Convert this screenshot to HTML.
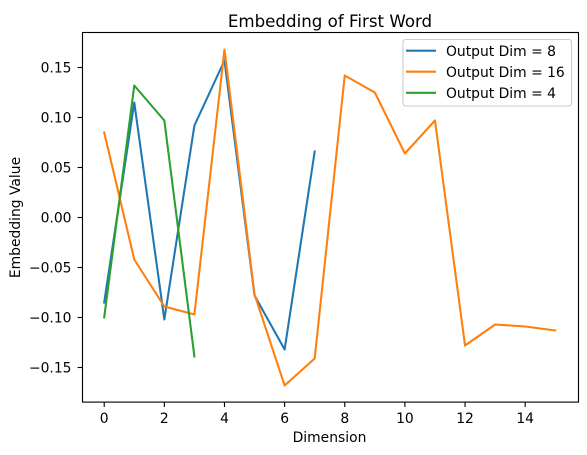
<!DOCTYPE html>
<html>
<head>
<meta charset="utf-8">
<title>Embedding of First Word</title>
<style>
html,body{margin:0;padding:0;background:#fff;width:587px;height:455px;overflow:hidden}
svg{display:block}
text{font-family:"DejaVu Sans",sans-serif;fill:#000}
</style>
</head>
<body>
<svg id="chart" width="587" height="455" viewBox="0 0 587 455" xmlns="http://www.w3.org/2000/svg">
  <rect x="0" y="0" width="587" height="455" fill="#fff"/>
  <g id="series"></g>
  <g id="xticks"></g>
  <g id="yticks"></g>
  <rect x="82.5" y="32.5" width="496" height="369.6" fill="none" stroke="#000" stroke-width="1.11"/>
  <text x="330" y="27" font-size="16.67" text-anchor="middle">Embedding of First Word</text>
  <text x="329.5" y="442" font-size="13.89" text-anchor="middle">Dimension</text>
  <text transform="translate(20,217.5) rotate(-90)" font-size="13.89" text-anchor="middle">Embedding Value</text>
  <g>
    <rect x="403" y="39.5" width="168.5" height="66.5" rx="2.8" fill="#fff" fill-opacity="0.8" stroke="#ccc" stroke-width="1.11"/>
    <g>
      <line x1="406" x2="436" y1="50.7" y2="50.7" stroke="#1f77b4" stroke-width="2.08"/>
      <text x="446" y="55.8" font-size="13.89">Output Dim = 8</text>
    </g>
    <g>
      <line x1="406" x2="436" y1="71.7" y2="71.7" stroke="#ff7f0e" stroke-width="2.08"/>
      <text x="446" y="76.8" font-size="13.89">Output Dim = 16</text>
    </g>
    <g>
      <line x1="406" x2="436" y1="92.8" y2="92.8" stroke="#2ca02c" stroke-width="2.08"/>
      <text x="446" y="97.9" font-size="13.89">Output Dim = 4</text>
    </g>
  </g>
</svg>
<script>
var xTicks = [0, 2, 4, 6, 8, 10, 12, 14];
var yTicks = [-0.15, -0.10, -0.05, 0.00, 0.05, 0.10, 0.15];
var dim8Values = [-0.085, 0.115, -0.102, 0.092, 0.157, -0.078, -0.132, 0.066];
var dim16Values = [0.085, -0.042, -0.089, -0.097, 0.168, -0.077, -0.168, -0.141, 0.142, 0.125, 0.064, 0.097, -0.128, -0.107, -0.109, -0.113];
var dim4Values = [-0.100, 0.132, 0.097, -0.139];

var NS = 'http://www.w3.org/2000/svg';

function xScale(v) {
  return 104.2 + v * 30.07;
}
function yScale(v) {
  return 217.5 - v * 1000;
}
function make(tag, attrs, parent) {
  var el = document.createElementNS(NS, tag);
  for (var k in attrs) {
    el.setAttribute(k, attrs[k]);
  }
  parent.appendChild(el);
  return el;
}
function drawSeries(values, color, name) {
  var pts = values.map(function (v, i) {
    return xScale(i).toFixed(2) + ',' + yScale(v).toFixed(2);
  }).join(' ');
  var el = make('polyline', {
    points: pts,
    fill: 'none',
    stroke: color,
    'stroke-width': 2.08,
    'stroke-linejoin': 'round',
    'stroke-linecap': 'square'
  }, document.getElementById('series'));
  
  
}
drawSeries(dim8Values, '#1f77b4', 'line-output-dim-8');
drawSeries(dim16Values, '#ff7f0e', 'line-output-dim-16');
drawSeries(dim4Values, '#2ca02c', 'line-output-dim-4');

xTicks.forEach(function (t) {
  var g = document.getElementById('xticks');
  var x = xScale(t);
  var mark = make('line', { x1: x, x2: x, y1: 402.1, y2: 407, stroke: '#000', 'stroke-width': 1.11 }, g);
  
  
  var label = make('text', { x: x, y: 423, 'font-size': 13.89, 'text-anchor': 'middle' }, g);
  label.textContent = String(t);
  
  
});

yTicks.forEach(function (t) {
  var g = document.getElementById('yticks');
  var y = yScale(t);
  var mark = make('line', { x1: 77.6, x2: 82.5, y1: y, y2: y, stroke: '#000', 'stroke-width': 1.11 }, g);
  
  
  var label = make('text', { x: 71.5, y: y + 5.1, 'font-size': 13.89, 'text-anchor': 'end' }, g);
  label.textContent = t.toFixed(2).replace('-', '\u2212');
  
  
});
</script>
</body>
</html>
